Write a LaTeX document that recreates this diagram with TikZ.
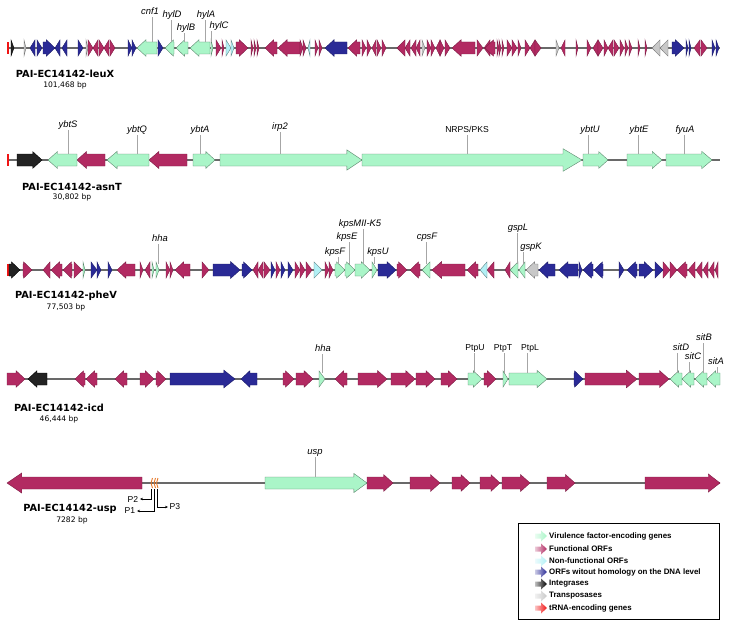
\documentclass[tikz,border=0pt]{standalone}
\usepackage{fontspec}
\setmainfont{Liberation Sans}
\newfontfamily\verdfont{DejaVu Sans}
\usetikzlibrary{arrows.meta}

\definecolor{virgreen}{RGB}{170,245,200}
\definecolor{funcmag}{RGB}{178,42,98}
\definecolor{nfcyan}{RGB}{178,240,245}
\definecolor{orfblue}{RGB}{42,42,150}
\definecolor{intblack}{RGB}{35,35,35}
\definecolor{trpgrey}{RGB}{200,200,200}
\definecolor{trnared}{RGB}{240,20,20}
\definecolor{promorange}{RGB}{230,120,40}
\definecolor{spine}{RGB}{105,105,105}

\tikzset{
  virgene/.style={fill=virgreen, draw=virgreen!55!black, line width=0.4pt},
  funcorf/.style={fill=funcmag, draw=funcmag!70!black, line width=0.4pt},
  nonforf/.style={fill=nfcyan, draw=nfcyan!55!black, line width=0.4pt},
  newforf/.style={fill=orfblue, draw=orfblue!70!black, line width=0.4pt},
  integr/.style={fill=intblack, draw=black, line width=0.4pt},
  transp/.style={fill=trpgrey, draw=trpgrey!60!black, line width=0.4pt},
  backbone/.style={draw=spine, line width=2.6pt},
  genename/.style={font=\fontsize{9.4}{10}\selectfont\itshape, inner sep=1pt, text height=6.5pt, text depth=2pt},
  protname/.style={genename, font=\fontsize{8.6}{10}\selectfont},
  leader/.style={draw=gray!70, line width=0.8pt},
  islename/.style={font=\verdfont\bfseries\fontsize{9.8}{11}\selectfont, inner sep=0pt},
  islesize/.style={font=\verdfont\fontsize{7.6}{9}\selectfont, inner sep=0pt},
  promname/.style={font=\fontsize{8.6}{10}\selectfont, inner sep=1.5pt},
  promline/.style={-{Stealth[length=3pt,width=2.5pt]}, line width=0.5pt},
  legtext/.style={font=\bfseries\fontsize{7.9}{9}\selectfont, inner sep=0pt, anchor=west},
}

% one gene: style, tail x, tip x (track y in \trk)
\newcommand{\gene}[3]{%
  \pgfmathsetmacro\glen{abs(#3-(#2))}%
  \pgfmathsetmacro\ghl{min(\glen,8+0.05*\glen)}%
  \pgfmathsetmacro\ghh{8+0.015*\glen}%
  \pgfmathsetmacro\gnk{(#3>#2) ? #3-\ghl : #3+\ghl}%
  \filldraw[#1] (#2,\trk-6) -- (\gnk,\trk-6) -- (\gnk,\trk-\ghh) -- (#3,\trk)
    -- (\gnk,\trk+\ghh) -- (\gnk,\trk+6) -- (#2,\trk+6) -- cycle;}

% gene name above the track with its leader line
\newcommand{\genelabel}[6][genename]{%
  \node[#1] (#2) at (#3,#4) {#5};
  \coordinate (#2-g) at (#6,\trk-6);
  \draw[leader] (#2-g |- #2.south) -- (#2-g);}

\begin{document}
\begin{tikzpicture}[x=1pt, y=-1pt]
    \useasboundingbox (0,0) rectangle (730,626);

    % PAI leuX
    \begin{scope}
        \def\trk{48}
        \draw[backbone] (8,\trk) -- (720,\trk);
        \fill[trnared] (7,\trk-6) rectangle (9,\trk+6);
        \gene{integr}{11}{14}
        \foreach \a/\b in {24/26, 86/88, 422/425, 556/559, 660/652, 668/660}
            {\gene{transp}{\a}{\b}}
        \foreach \a/\b in {35/30, 37/42, 43/55, 60/55, 67/62, 78/83, 128/132, 132/136, 158/163,
            347/325, 672/684, 686/688, 689/691, 712/715, 716/719}
            {\gene{newforf}{\a}{\b}}
        \foreach \a/\b in {88/93, 98/93, 99/104, 109/104, 110/115, 216/221, 222/224, 236/248,
            251/253, 254/256, 257/259, 277/265, 300/278, 300/303, 303/306, 315/318, 319/322,
            360/348, 362/366, 367/371, 376/372, 377/381, 382/386, 405/397, 410/405, 416/411,
            420/416, 427/431, 431/435, 440/436, 440/444, 445/450, 475/452, 477/483, 490/484,
            495/485, 497/499, 499/501, 502/504, 507/512, 512/517, 518/521, 525/530, 535/530,
            535/541, 565/561, 576/578, 587/591, 598/593, 598/603, 604/608, 613/608, 614/619,
            620/624, 625/628, 629/632, 638/640, 645/647, 700/694, 701/707}
            {\gene{funcorf}{\a}{\b}}
        \foreach \a/\b in {226/231, 231/234, 310/308}
            {\gene{nonforf}{\a}{\b}}
        \foreach \a/\b in {157/137, 174/165, 188/176, 210/190, 211/213}
            {\gene{virgene}{\a}{\b}}
        \genelabel{cnf1}{150}{12}{cnf1}{152}
        \genelabel{hylD}{172}{15}{hylD}{171}
        \genelabel{hylB}{186}{28}{hylB}{184}
        \genelabel{hylA}{206}{15}{hylA}{205}
        \genelabel{hylC}{219}{26}{hylC}{211}
        \node[islename] (leuX) at (65,74) {PAI-EC14142-leuX};
        \node[islesize] (leuXbp) at (65,85) {101,468 bp};
    \end{scope}

    % PAI asnT
    \begin{scope}
        \def\trk{160}
        \draw[backbone] (8,\trk) -- (720,\trk);
        \fill[trnared] (7,\trk-6) rectangle (9,\trk+6);
        \gene{integr}{17}{42}
        \foreach \a/\b in {105/77, 187/149}
            {\gene{funcorf}{\a}{\b}}
        \foreach \a/\b in {77/48, 149/107, 193/215, 220/362, 362/582, 583/608, 627/662, 666/712}
            {\gene{virgene}{\a}{\b}}
        \genelabel{ybtS}{68}{125}{ybtS}{68}
        \genelabel{ybtQ}{137}{130}{ybtQ}{137}
        \genelabel{ybtA}{200}{130}{ybtA}{200}
        \genelabel{irp2}{280}{127}{irp2}{280}
        \genelabel[protname]{nrps}{467}{130}{NRPS/PKS}{467}
        \genelabel{ybtU}{590}{130}{ybtU}{588}
        \genelabel{ybtE}{639}{130}{ybtE}{638}
        \genelabel{fyuA}{685}{130}{fyuA}{684}
        \node[islename] (asnT) at (72,187) {PAI-EC14142-asnT};
        \node[islesize] (asnTbp) at (72,197) {30,802 bp};
    \end{scope}

    % PAI pheV
    \begin{scope}
        \def\trk{270}
        \draw[backbone] (8,\trk) -- (718,\trk);
        \fill[trnared] (7,\trk-6) rectangle (9,\trk+6);
        \gene{integr}{9}{20}
        \gene{transp}{538}{526}
        \foreach \a/\b in {23/32, 50/43, 62/51, 72/63, 74/82, 135/117, 140/143, 150/145, 166/170,
            170/173, 190/175, 202/209, 258/253, 263/258, 264/270, 276/280, 295/300, 300/305,
            306/312, 325/329, 329/333, 397/407, 420/410, 465/432, 478/467, 494/487, 510/505,
            663/670, 670/677, 687/677, 695/688, 702/696, 708/703, 714/709, 718/715}
            {\gene{funcorf}{\a}{\b}}
        \foreach \a/\b in {91/97, 97/101, 108/112, 213/240, 242/252, 271/275, 281/285, 288/293,
            378/396, 555/539, 578/559, 579/582, 593/583, 603/594, 619/624, 637/627, 639/653,
            655/663}
            {\gene{newforf}{\a}{\b}}
        \foreach \a/\b in {314/322, 487/480}
            {\gene{nonforf}{\a}{\b}}
        \foreach \a/\b in {83/85, 152/154, 156/159, 335/345, 345/355, 355/370, 372/377, 430/422,
            518/510, 525/519}
            {\gene{virgene}{\a}{\b}}
        \genelabel{hhaA}{160}{239}{hha}{158}
        \genelabel{kpsF}{335}{252}{kpsF}{338}
        \genelabel{kpsE}{347}{237}{kpsE}{349}
        \genelabel{kpsM}{360}{224}{kpsMII-K5}{363}
        \genelabel{kpsU}{378}{252}{kpsU}{374}
        \genelabel{cpsF}{427}{237}{cpsF}{426}
        \genelabel{gspL}{518}{228}{gspL}{517}
        \genelabel{gspK}{531}{247}{gspK}{523}
        \node[islename] (pheV) at (66,296) {PAI-EC14142-pheV};
        \node[islesize] (pheVbp) at (66,307) {77,503 bp};
    \end{scope}

    % PAI icd
    \begin{scope}
        \def\trk{379}
        \draw[backbone] (8,\trk) -- (720,\trk);
        \gene{integr}{47}{28}
        \foreach \a/\b in {7/25, 85/75, 97/86, 127/115, 140/154, 156/166, 283/294, 296/313, 347/335,
            358/387, 391/415, 416/435, 441/457, 484/496, 585/637, 639/669}
            {\gene{funcorf}{\a}{\b}}
        \foreach \a/\b in {170/235, 257/241, 574/583}
            {\gene{newforf}{\a}{\b}}
        \foreach \a/\b in {319/325, 468/482, 503/508, 509/547, 682/670, 694/682, 707/695, 720/707}
            {\gene{virgene}{\a}{\b}}
        \genelabel{hhaB}{323}{349}{hha}{322}
        \genelabel[protname]{ptpU}{475}{348}{PtpU}{474}
        \genelabel[protname]{ptpT}{503}{348}{PtpT}{504}
        \genelabel[protname]{ptpL}{530}{348}{PtpL}{527}
        \genelabel{sitD}{681}{348}{sitD}{677}
        \genelabel{sitC}{693}{357}{sitC}{689}
        \genelabel{sitB}{704}{338}{sitB}{703}
        \genelabel{sitA}{716}{362}{sitA}{717}
        \node[islename] (icd) at (59,408) {PAI-EC14142-icd};
        \node[islesize] (icdbp) at (59,419) {46,444 bp};
    \end{scope}

    % PAI usp with promoters
    \begin{scope}
        \def\trk{483}
        \draw[backbone] (8,\trk) -- (720,\trk);
        \foreach \a/\b in {142/7, 367/393, 410/440, 452/470, 480/500, 502/530, 547/575, 645/720}
            {\gene{funcorf}{\a}{\b}}
        \gene{virgene}{265}{367}
        \foreach \px in {151.5,154.5,157}
            \draw[promorange, line width=0.9pt] (\px+1,\trk-5) -- (\px-0.5,\trk) -- (\px+1,\trk+5);
        \genelabel{usp}{315}{452}{usp}{315}
        \coordinate (p2s) at (151.5,489);
        \coordinate (p1s) at (154.5,489);
        \coordinate (p3s) at (157,489);
        \node[promname] (P2) at (133,499) {P2};
        \node[promname] (P1) at (130,511) {P1};
        \node[promname] (P3) at (175,507) {P3};
        \draw[promline] (p2s) |- (P2.east);
        \draw[promline] (p1s) |- (P1.east);
        \draw[promline] (p3s) |- (P3.west);
        \node[islename] (usp-t) at (70,509) {PAI-EC14142-usp};
        \node[islesize] (uspbp) at (72,520) {7282 bp};
    \end{scope}

    % Legend
    \draw[line width=0.8pt] (518,523) rectangle (719,619);
    \foreach \ly/\lc/\lt in {536/virgreen/Virulence factor-encoding genes,
        549/funcmag/Functional ORFs, 561/nfcyan/Non-functional ORFs,
        572/orfblue/ORFs witout homology on the DNA level, 584/black/Integrases,
        596/trpgrey/Transposases, 608/trnared/tRNA-encoding genes}{
        \shade[left color=\lc!25!white, right color=\lc] (535,\ly-2.5) -- (541,\ly-2.5)
            -- (541,\ly-5.5) -- (547,\ly) -- (541,\ly+5.5) -- (541,\ly+2.5) -- (535,\ly+2.5) -- cycle;
        \node[legtext] (leg\ly) at (549,\ly) {\lt};
    }

\end{tikzpicture}
\end{document}
